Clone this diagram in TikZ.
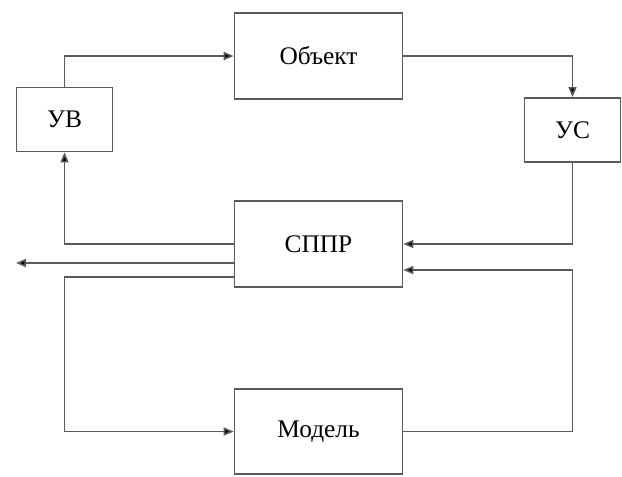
\documentclass[tikz,border=0pt]{standalone}
\usepackage{fontspec}
\setmainfont{Liberation Serif}
\usetikzlibrary{arrows.meta}

\tikzset{
  block/.style={rectangle, draw=black!65, line width=1.3pt, fill=white,
    minimum width=126pt, minimum height=64pt, font=\fontsize{19}{21}\selectfont},
  smallblock/.style={block, minimum width=72pt, minimum height=48pt},
  link/.style={draw=black!65, line width=1.2pt, -{Triangle[length=7.5pt,width=6pt,fill=black]}}
}

\begin{document}
\begin{tikzpicture}[x=0.75pt, y=-0.75pt]
      \useasboundingbox (0,0) rectangle (622,476);

      \node[block] (obj) at (318.5, 56) {Объект};
      \node[smallblock] (uv) at (64.5, 119.5) {УВ};
      \node[smallblock] (us) at (572.5, 130) {УС};
      \node[block] (sppr) at (318.5, 244) {СППР};
      \node[block] (model) at (318.5, 431.5) {Модель};
      \coordinate (out) at (16, 263);

      \draw[link] (uv) |- (obj);
      \draw[link] (obj) -| (us);
      \draw[link] (us) |- (sppr);
      \draw[link] (sppr) -| (uv);

      \draw[link] (sppr.west |- out) -- (out);

      \draw[link] (sppr.west |- 0,277) -| (uv |- model) -- (model);
      \draw[link] (model) -| (us |- 0,270) -- (sppr.east |- 0,270);
    \end{tikzpicture}
\end{document}
